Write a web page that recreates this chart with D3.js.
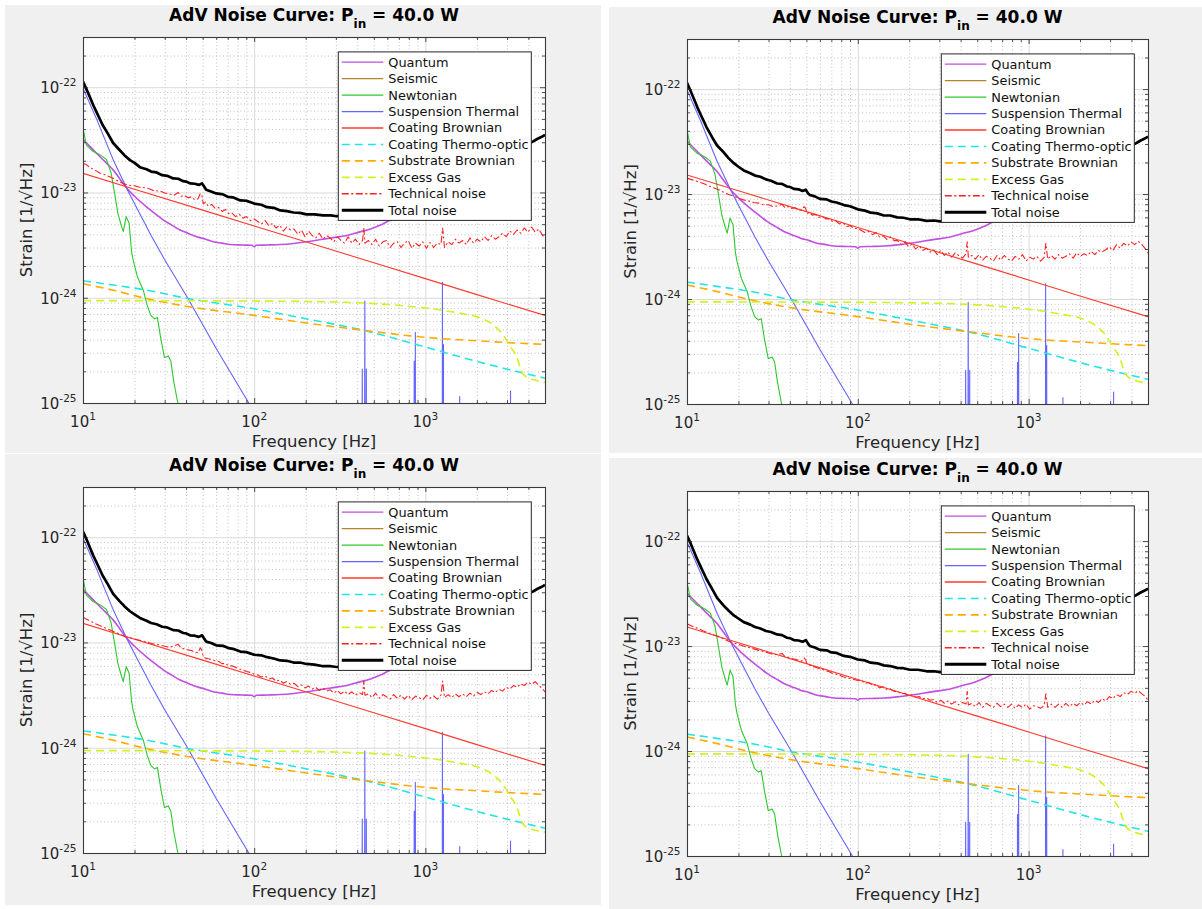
<!DOCTYPE html>
<html><head><meta charset="utf-8">
<script src="https://cdn.jsdelivr.net/npm/d3@7"></script>
<style>
html,body{margin:0;padding:0;background:#fff;}
svg{display:block;font-family:"DejaVu Sans",sans-serif;}
</style></head><body>
<svg id="chart" width="1202" height="909"></svg>
<script>
// ---------------- DATA (strain values in units of 1e-24 1/sqrt(Hz)) ----------------
const UNIT = 1e-24;
const legendLabels = ["Quantum","Seismic","Newtonian","Suspension Thermal","Coating Brownian",
  "Coating Thermo-optic","Substrate Brownian","Excess Gas","Technical noise","Total noise"];
const xMajorTicks = [10, 100, 1000];
const xTickExps = ["1", "2", "3"];
const yMajorTicks = [1e-25, 1e-24, 1e-23, 1e-22];
const yTickExps = ["-25", "-24", "-23", "-22"];
const xDomain = [10, 5000];
const yDomain = [1e-25, 3e-22];
const titleMain = "AdV Noise Curve: P", titleSub = "in", titleEnd = " = 40.0 W";
const xLabel = "Frequency [Hz]", yLabel = "Strain [1/\u221AHz]";

const quantumFreq = [10,11,12,13,14,15,16.5,18,20,23.5,26,29.4,33,36.9,41,46.2,52,57.8,65,72.5,85,97,100,103,120,142,170,202,240,281,348,410,478,546,600,700,800,1000,1500,2000,3000,4000,5000];
const quantumVal  = [32,27.3,23.6,20.7,18.4,16.4,13.3,11.0,9.2,7.3,6.4,5.5,4.9,4.4,4.1,3.8,3.6,3.4,3.3,3.2,3.17,3.15,3.05,3.15,3.17,3.2,3.28,3.4,3.55,3.7,3.9,4.2,4.5,4.9,5.3,5.9,6.5,7.9,11.3,14.8,21.6,28.6,35.2];

const seismicFreq = [10, 12, 15, 20];
const seismicVal  = [0.02, 0.005, 0.001, 0.0001];

const newtFreq = [10,10.47,11.44,12.1,12.8,13.7,14.6,15.3,16.0,16.8,17.2,17.6,17.9,18.6,19.2,19.6,20.8,22.5,23.7,24.9,26.2,27.2,28.4,29.9,31.5,32.6,33.9,35.8,40];
const newtVal  = [40.7,28.2,24.5,23.6,22.4,20.6,15.3,9.8,6.3,4.75,4.25,5.2,5.9,5.1,2.8,2.3,1.58,1.18,0.85,0.68,0.63,0.65,0.42,0.27,0.28,0.25,0.16,0.10,0.04];

const suspFreq = [10,12,15,18.5,25,30,40.8,60,93,120,200,300,425,428,431,440,443,446,449,452,455,600,855,861,866,869,874,879,1252,1258,1264,1270,1276,1282,1580,1588,1596,2270,2280,2290,3130,3145,3160,5000];
const suspVal  = [98,50,20.5,10,3.9,2.3,1.0,0.33,0.1,0.05,0.012,0.004,0.0016,0.21,0.0016,0.0015,0.93,0.0015,0.0014,0.21,0.0014,0.0006,0.0002,0.25,0.0002,0.0002,0.47,0.0002,0.00007,1.4,0.00007,0.00007,0.36,0.00007,0.00004,0.115,0.00004,0.000015,0.102,0.000015,0.000006,0.13,0.000006,0.000002];

const cbFreq = [10,20,50,100,200,500,1000,2000,5000];
const cbVal  = [15.2,10.75,6.8,4.8,3.4,2.15,1.52,1.07,0.68];

const ctFreq = [10,15,23,40,100,202,437,1000,2060,5000];
const ctVal  = [1.45,1.32,1.19,0.99,0.785,0.63,0.49,0.34,0.245,0.172];

const sbFreq = [10,15.3,23,40,100,202,437,1000,2000,3000,5000];
const sbVal  = [1.36,1.17,0.99,0.83,0.68,0.575,0.49,0.42,0.39,0.375,0.36];

const gasFreq = [10,100,300,500,800,1262,1600,2000,2500,2800,3150,3420,3650,3830,4350,4720,5000];
const gasVal  = [0.94,0.93,0.91,0.88,0.83,0.76,0.71,0.66,0.55,0.46,0.34,0.275,0.20,0.18,0.165,0.16,0.158];

const techFreq = [10,10.5,11,11.7,12.5,13.3,14.3,15.3,16.4,17.5,18.7,20,21.4,23,24.6,26.3,28,30,32,34,36,37.5,39,41,43,45,47,48.5,49.5,50.5,52,54,56.5,59,62,65,68,71,74,78,82,86,90,95,100,
 105,110,116,122,128,134,141,148,155,163,171,180,189,198,208,218,229,240,252,265,278,292,306,321,337,354,372,390,410,430,437,444,465,488,512,538,565,593,622,653,686,720,756,794,834,876,920,966,1014,1065,1118,1174,1233,1262,1294,1359,1427,1498,1573,1652,1735,1822,1913,2008,2108,2214,2325,2441,2563,2691,2826,2967,3115,3271,3435,3606,3787,3976,4175,4384,4603,4833,5000];
const techNoise1 = [19.0,18.3,17.2,16.4,15.3,14.8,14.1,13.4,12.6,12.0,11.7,11.6,11.2,11.1,10.8,10.3,10.4,9.9,9.7,9.4,10.0,9.2,9.4,8.9,9.1,8.5,8.7,9.8,9.3,7.8,8.1,7.4,7.7,7.1,7.2,6.6,6.9,6.3,6.4,5.9,6.2,5.7,5.9,5.4,5.6,
 5.3,5.0,5.4,4.8,5.1,4.6,4.9,4.3,4.7,4.4, 4.5,4.0,4.4,3.8,4.3,3.9,3.7,4.1,3.6,3.9, 3.7,3.4,3.8,3.5,3.3,3.8,3.3,3.6,3.2,3.5,
 4.6,3.3,3.5,3.2,3.6,3.1,3.4,3.5,3.0,3.3, 3.4,3.0,3.3,3.5,2.95,3.3,3.1,3.4,2.95,3.35, 3.0,3.3,3.2,4.6,3.0,3.4,3.2,3.6,3.3,3.5,
 3.2,3.7,3.3,3.6,3.4,3.8,3.5,3.9,3.6,3.8, 4.1,3.8,4.3,4.0,4.4,4.1,4.6,4.2,4.7,4.2, 4.5,3.9,3.7];
const techNoise2 = [14.2,13.8,13.5,13.0,12.6,12.0,11.5,11.0,10.4,9.9,9.6,9.1,8.8,8.6,8.3,8.2,7.9,7.9,7.6,7.7,8.0,7.4,7.6,7.3,7.4,7.0,7.1,7.6,7.3,6.5,6.7,6.3,6.4,6.0,6.1,5.8,5.8,5.5,5.6,5.2,5.3,4.9,5.0,4.7,4.7,
 4.5,4.3,4.4,4.1,4.3,3.9,4.0,3.7,3.9,3.6, 3.6,3.3,3.5,3.15,3.35,3.0,3.2,2.9,3.05,2.8, 2.95,2.65,2.9,2.6,2.8,2.5,2.75,2.6,2.45,2.7,
 3.5,2.5,2.6,2.4,2.65,2.35,2.55,2.45,2.3,2.6, 2.35,2.6,2.4,2.3,2.55,2.4,2.65,2.3,2.5,2.4, 2.55,2.3,2.5,3.4,2.4,2.6,2.4,2.65,2.45,2.55,
 2.7,2.45,2.75,2.55,2.7,2.6,2.85,2.65,2.9,2.8, 2.95,3.15,2.9,3.3,3.05,3.4,3.2,3.5,3.3,3.55, 3.3,3.0,2.75];
const techNoise3 = [17.4,16.6,16.0,15.2,14.5,13.9,13.2,12.6,12.0,11.4,11.1,10.8,10.5,10.2,9.9,9.6,9.5,9.2,9.0,9.3,9.6,8.8,8.7,8.5,8.4,8.1,8.0,8.9,8.4,7.3,7.1,7.0,6.9,6.7,6.6,6.3,6.3,6.0,6.0,5.8,5.6,5.5,5.3,5.2,5.0,
 4.9,4.7,4.8,4.5,4.6,4.3,4.4,4.1,4.25,4.0, 4.1,3.8,3.95,3.7,3.85,3.6,3.75,3.5,3.7,3.45, 3.55,3.3,3.5,3.25,3.45,3.2,3.4,3.15,3.35,3.2,
 4.3,3.15,3.25,3.0,3.3,2.95,3.2,3.05,2.9,3.2, 2.95,3.15,2.9,3.15,2.85,3.1,3.0,2.85,3.15,2.95, 3.1,2.9,3.15,4.3,3.0,3.2,3.0,3.25,3.05,3.25,
 3.05,3.3,3.1,3.35,3.2,3.4,3.25,3.5,3.35,3.6, 3.45,3.75,3.6,3.9,3.75,4.05,3.9,4.2,4.0,4.25, 3.9,3.65,3.4];
const techNoise4 = [16.3,15.7,15.2,14.6,13.9,13.4,12.8,12.3,11.7,11.1,10.7,10.4,10.0,9.7,9.4,9.1,8.9,8.6,8.3,8.3,8.5,7.9,7.8,7.6,7.5,7.3,7.2,7.7,7.4,6.7,6.6,6.4,6.3,6.1,6.0,5.8,5.7,5.5,5.4,5.3,5.1,5.0,4.9,4.8,4.7,
 4.7,4.4,4.5,4.2,4.3,4.0,4.1,3.85,3.9,3.7, 3.7,3.5,3.55,3.35,3.45,3.25,3.3,3.15,3.2,3.05, 3.1,2.9,3.05,2.85,3.0,2.8,2.95,2.75,2.9,2.8,
 3.7,2.75,2.85,2.65,2.9,2.6,2.85,2.7,2.6,2.85, 2.65,2.8,2.6,2.8,2.55,2.75,2.6,2.8,2.5,2.7, 2.65,2.55,2.7,3.5,2.6,2.8,2.6,2.8,2.6,2.85,
 2.65,2.85,2.7,2.9,2.75,2.95,2.8,3.05,2.9,3.15, 3.0,3.3,3.15,3.45,3.3,3.6,3.45,3.7,3.55,3.75, 3.5,3.3,3.05];

const totalFreq = [10,10.5,11,11.5,12,13,14,15,16.4,17.5,18.8,20,21.5,23.5,25,26.9,29,31,33.7,36,38.5,40,42.2,45,47.5,49.6,51,52.4,56,60,65.7,70,75,83,90,100,110,119,130,142,155,170,185,202,225,253,280,303,350,400,500,600,800,1000,1500,2000,3000,4000,4240,4500,4750,5000];
const totalNoise1 = [113,95,80,67,58,44,36,29.5,25.2,22.5,20.3,19.1,17.4,16.6,15.8,15.5,14.6,14.4,13.6,13.5,12.8,12.7,12.2,12.1,11.8,12.2,11.4,10.6,10.2,9.8,9.6,9.1,9.0,8.4,8.35,7.85,7.65,7.25,7.15,6.75,6.65,6.45,6.4,6.2,6.2,6.05,6.05,5.95,6.0,6.1,6.3,6.7,7.8,8.9,12.0,15.2,22.0,29.0,30.4,32.2,33.6,35.2];
const totalNoise2 = [115,96,80,67,57.5,43.5,35,29,25,22,19.7,18.2,16.8,15.8,15.0,14.6,13.8,13.4,12.6,12.5,11.8,11.7,11.2,11.1,10.7,11.0,10.2,9.8,9.5,9.0,8.9,8.5,8.3,7.85,7.65,7.15,6.95,6.65,6.55,6.25,6.25,6.0,5.95,5.75,5.75,5.55,5.6,5.5,5.55,5.7,6.0,6.4,7.5,8.6,11.7,15.0,21.9,29.0,30.4,32.2,33.6,35.2];
const totalNoise3 = [113,95,79,66.5,57.5,43.5,35.5,29,24.6,22,19.8,18.5,17.1,16.1,15.3,14.9,14.1,13.9,13.1,13.0,12.3,12.2,11.7,11.6,11.3,11.7,10.9,10.2,9.9,9.4,9.3,8.9,8.7,8.2,8.1,7.65,7.55,7.25,7.05,6.75,6.7,6.45,6.45,6.25,6.15,5.95,5.95,5.85,5.9,6.0,6.3,6.7,7.7,8.8,11.9,15.1,22.0,29.0,30.4,32.2,33.6,35.2];
const totalNoise4 = [113,95,79,66.5,57.5,43.5,35.2,28.8,24.3,21.8,19.6,18.3,16.9,16.0,15.2,14.7,13.9,13.6,12.9,12.7,12.0,11.9,11.4,11.3,11.0,11.4,10.6,10.0,9.7,9.2,9.1,8.7,8.6,8.05,7.9,7.45,7.3,6.95,6.85,6.55,6.45,6.2,6.15,5.95,5.95,5.75,5.75,5.65,5.7,5.85,6.1,6.5,7.6,8.7,11.8,15.1,22.0,29.0,30.4,32.2,33.6,35.2];

// ---------------- LAYOUT & STYLE ----------------
const panelLayout = [
  {bg:[5,5,596,448],   axes:[83,37,462,366]},
  {bg:[609,7,593,446], axes:[687,39,461,365]},
  {bg:[5,454,596,451], axes:[83,487,462,366]},
  {bg:[609,458,593,451], axes:[687,491,461,365]}
];
const panelData = [
  {tech: techNoise1, total: totalNoise1},
  {tech: techNoise2, total: totalNoise2},
  {tech: techNoise3, total: totalNoise3},
  {tech: techNoise4, total: totalNoise4}
];
const styles = [
  {color:"#c04fe2", width:1.6, dash:null, curve:d3.curveMonotoneX},
  {color:"#b5832a", width:1.2, dash:null, curve:d3.curveLinear},
  {color:"#2ec82e", width:1.1, dash:null, curve:d3.curveLinear},
  {color:"#6464ff", width:1.1, dash:null, curve:d3.curveLinear},
  {color:"#ff3a2e", width:1.1, dash:null, curve:d3.curveLinear},
  {color:"#22e6e6", width:1.6, dash:"8,5", curve:d3.curveMonotoneX},
  {color:"#ffaa00", width:1.6, dash:"8,5", curve:d3.curveMonotoneX},
  {color:"#d4f01e", width:1.6, dash:"8,5", curve:d3.curveMonotoneX},
  {color:"#ff2020", width:1.1, dash:"7,2.5,2,2.5", curve:d3.curveLinear},
  {color:"#000000", width:2.7, dash:null, curve:d3.curveLinear}
];

const svg = d3.select("#chart");
const defs = svg.append("defs");

function zip(f, v){ return f.map((fr,i)=>[fr, v[i]]); }

panelLayout.forEach((L, pi) => {
  const D = panelData[pi];
  const series = [
    zip(quantumFreq, quantumVal), zip(seismicFreq, seismicVal), zip(newtFreq, newtVal),
    zip(suspFreq, suspVal), zip(cbFreq, cbVal), zip(ctFreq, ctVal), zip(sbFreq, sbVal),
    zip(gasFreq, gasVal), zip(techFreq, D.tech), zip(totalFreq, D.total)
  ];
  const g = svg.append("g");
  g.append("rect").attr("x",L.bg[0]).attr("y",L.bg[1]).attr("width",L.bg[2]).attr("height",L.bg[3]).attr("fill","#f0f0f0");
  const [ax, ay, aw, ah] = L.axes;
  const x = d3.scaleLog().domain(xDomain).range([ax, ax+aw]);
  const y = d3.scaleLog().domain(yDomain).range([ay+ah, ay]);
  g.append("rect").attr("x",ax).attr("y",ay).attr("width",aw).attr("height",ah).attr("fill","#fff");

  const isMajor = v => Math.abs(Math.log10(v) - Math.round(Math.log10(v))) < 1e-6;
  const xMinor = x.ticks().filter(v => !isMajor(v) && v < xDomain[1]);
  const yMinor = y.ticks().filter(v => !isMajor(v) && v < yDomain[1]*0.999);

  // grids
  const gridMinor = (axisGen, tr) => g.append("g").attr("transform", tr).call(axisGen)
     .call(s => { s.select(".domain").remove(); s.selectAll("text").remove();
       s.selectAll("line").attr("stroke","#c2c2c2").attr("stroke-width",1).attr("stroke-dasharray","1,2.5"); });
  gridMinor(d3.axisBottom(x).tickValues(xMinor).tickSize(-ah).tickFormat(""), `translate(0,${ay+ah})`);
  gridMinor(d3.axisLeft(y).tickValues(yMinor).tickSize(-aw).tickFormat(""), `translate(${ax},0)`);
  const gridMajor = (axisGen, tr) => g.append("g").attr("transform", tr).call(axisGen)
     .call(s => { s.select(".domain").remove(); s.selectAll("text").remove();
       s.selectAll("line").attr("stroke","#dadada").attr("stroke-width",1); });
  gridMajor(d3.axisBottom(x).tickValues(xMajorTicks.slice(1)).tickSize(-ah).tickFormat(""), `translate(0,${ay+ah})`);
  gridMajor(d3.axisLeft(y).tickValues(yMajorTicks.slice(1)).tickSize(-aw).tickFormat(""), `translate(${ax},0)`);

  // curves
  const clipId = "clip" + pi;
  defs.append("clipPath").attr("id", clipId).append("rect").attr("x",ax).attr("y",ay).attr("width",aw).attr("height",ah);
  const plot = g.append("g").attr("clip-path", `url(#${clipId})`);
  series.forEach((data, si) => {
    const st = styles[si];
    const line = d3.line().x(d => x(d[0])).y(d => y(d[1]*UNIT)).curve(st.curve);
    plot.append("path").attr("d", line(data)).attr("fill","none")
      .attr("stroke", st.color).attr("stroke-width", st.width)
      .attr("stroke-dasharray", st.dash).attr("stroke-linejoin","round");
  });

  // ticks (inside, all four sides)
  const tickAxis = (gen, tr) => g.append("g").attr("transform", tr).call(gen)
     .call(s => { s.select(".domain").remove(); s.selectAll("text").remove();
       s.selectAll("line").attr("stroke","#262626").attr("stroke-width",0.8); });
  tickAxis(d3.axisBottom(x).tickValues(xMajorTicks).tickSize(-5).tickFormat(""), `translate(0,${ay+ah})`);
  tickAxis(d3.axisBottom(x).tickValues(xMinor).tickSize(-3).tickFormat(""), `translate(0,${ay+ah})`);
  tickAxis(d3.axisTop(x).tickValues(xMajorTicks).tickSize(-5).tickFormat(""), `translate(0,${ay})`);
  tickAxis(d3.axisTop(x).tickValues(xMinor).tickSize(-3).tickFormat(""), `translate(0,${ay})`);
  tickAxis(d3.axisLeft(y).tickValues(yMajorTicks).tickSize(-5).tickFormat(""), `translate(${ax},0)`);
  tickAxis(d3.axisLeft(y).tickValues(yMinor).tickSize(-3).tickFormat(""), `translate(${ax},0)`);
  tickAxis(d3.axisRight(y).tickValues(yMajorTicks).tickSize(-5).tickFormat(""), `translate(${ax+aw},0)`);
  tickAxis(d3.axisRight(y).tickValues(yMinor).tickSize(-3).tickFormat(""), `translate(${ax+aw},0)`);

  // box
  g.append("rect").attr("x",ax+0.5).attr("y",ay+0.5).attr("width",aw).attr("height",ah)
    .attr("fill","none").attr("stroke","#3a3a3a").attr("stroke-width",1.1);

  // tick labels
  xMajorTicks.forEach((v, i) => {
    const t = g.append("text").attr("x", x(v)).attr("y", ay+ah+23.5).attr("text-anchor","middle")
      .attr("font-size",15).attr("fill","#262626");
    t.append("tspan").text("10");
    t.append("tspan").attr("dy",-7).attr("font-size",10.5).text(xTickExps[i]);
  });
  yMajorTicks.forEach((v, i) => {
    const t = g.append("text").attr("x", ax-6.5).attr("y", y(v)+6).attr("text-anchor","end")
      .attr("font-size",15).attr("fill","#262626");
    t.append("tspan").text("10");
    t.append("tspan").attr("dy",-7).attr("font-size",10.5).text(yTickExps[i]);
  });

  // axis labels
  g.append("text").attr("x", ax+aw/2).attr("y", ay+ah+44).attr("text-anchor","middle")
    .attr("font-size",16.5).attr("fill","#262626").text(xLabel);
  g.append("text").attr("transform", `translate(${ax-51},${ay+ah/2}) rotate(-90)`).attr("text-anchor","middle")
    .attr("font-size",16.5).attr("fill","#262626").text(yLabel);

  // title
  const tt = g.append("text").attr("x", ax+aw/2).attr("y", ay-16.5).attr("text-anchor","middle")
    .attr("font-size",17).attr("font-weight","bold").attr("fill","#000");
  tt.append("tspan").text(titleMain);
  tt.append("tspan").attr("dy",7.5).attr("font-size",12).text(titleSub);
  tt.append("tspan").attr("dy",-7.5).text(titleEnd);

  // legend
  const lw = 193, lh = 168.5;
  const lx = ax + aw - 14.2 - lw, ly = ay + 14.4;
  const lg = g.append("g");
  lg.append("rect").attr("x",lx+0.5).attr("y",ly+0.5).attr("width",lw).attr("height",lh)
    .attr("fill","#fff").attr("stroke","#262626").attr("stroke-width",1);
  legendLabels.forEach((lab, i) => {
    const st = styles[i];
    const ry = ly + 10.8 + i*16.45;
    lg.append("line").attr("x1",lx+4).attr("x2",lx+45.5).attr("y1",ry).attr("y2",ry)
      .attr("stroke",st.color).attr("stroke-width", i===9 ? 3.2 : (st.dash ? 1.6 : 1.3))
      .attr("stroke-dasharray", st.dash);
    lg.append("text").attr("x",lx+50.5).attr("y",ry+4.4).attr("font-size",12.9).attr("fill","#111").text(lab);
  });
});
</script>
</body></html>
